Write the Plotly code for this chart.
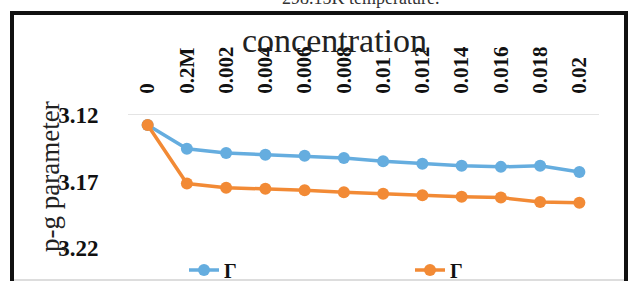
import plotly.graph_objects as go

categories = ["0", "0.2M", "0.002", "0.004", "0.006", "0.008", "0.01", "0.012", "0.014", "0.016", "0.018", "0.02"]
series_blue = [3.1275, 3.1454, 3.1486, 3.1499, 3.1506, 3.1523, 3.1548, 3.1566, 3.1581, 3.1590, 3.1581, 3.1628]
series_orange = [3.1275, 3.1715, 3.1747, 3.1754, 3.1765, 3.1780, 3.1792, 3.1804, 3.1814, 3.1821, 3.1854, 3.1859]
y_ticks = [3.12, 3.17, 3.22]
series_names = ["Γ", "Γ"]

W, H = 634, 281
L, R, T, B = 128, 35, 115, 33
pw, ph = W - L - R, H - T - B

def px_x(x):
    return (x - L) / pw

def px_y(y):
    return (H - B - y) / ph

SERIF = "Liberation Serif, Times New Roman, serif"
BLUE = "#65ADDF"
ORANGE = "#F28A35"

fig = go.Figure()
fig.add_trace(go.Scatter(x=categories, y=series_blue, name=series_names[0], mode="lines+markers",
                         line=dict(color=BLUE, width=3.5), marker=dict(size=12, color=BLUE),
                         legend="legend"))
fig.add_trace(go.Scatter(x=categories, y=series_orange, name=series_names[1], mode="lines+markers",
                         line=dict(color=ORANGE, width=3.5), marker=dict(size=12, color=ORANGE),
                         legend="legend2"))

legend_common = dict(orientation="h", yanchor="middle", xanchor="left",
                     font=dict(family=SERIF, size=20, color="#111", weight="bold"),
                     bgcolor="rgba(0,0,0,0)")

fig.update_layout(
    width=W, height=H,
    margin=dict(l=L, r=R, t=T, b=B, autoexpand=False),
    paper_bgcolor="white", plot_bgcolor="white",
    font=dict(family=SERIF, color="#1a1a1a"),
    showlegend=True,
    legend=dict(x=px_x(184), y=px_y(270), **legend_common),
    legend2=dict(x=px_x(410), y=px_y(270), **legend_common),
    xaxis=dict(type="category", side="top", range=[-0.5, 11.5], showgrid=False, automargin=False,
               showline=True, linecolor="#e4e4e4", linewidth=1,
               ticks="outside", ticklen=16, tickcolor="rgba(0,0,0,0)",
               tickangle=-90, tickfont=dict(family=SERIF, size=21, color="#111", weight="bold")),
    yaxis=dict(range=[3.22, 3.12], tickvals=y_ticks, ticktext=[f"{v:.2f}" for v in y_ticks],
               showgrid=False, zeroline=False, showline=False, automargin=False,
               ticks="outside", ticklen=24, tickcolor="rgba(0,0,0,0)",
               tickfont=dict(family=SERIF, size=23, color="#111", weight="bold")),
)

fig.add_annotation(text="concentration", xref="paper", yref="paper",
                   x=px_x(334), y=px_y(40), xanchor="center", yanchor="middle", showarrow=False,
                   font=dict(family=SERIF, size=34, color="#222"))
fig.add_annotation(text="p-g parameter", textangle=-90, xref="paper", yref="paper",
                   x=px_x(50), y=px_y(177), xanchor="center", yanchor="middle", showarrow=False,
                   font=dict(family=SERIF, size=27, color="#222"))
fig.add_annotation(text="298.15K temperature.", xref="paper", yref="paper",
                   x=px_x(360), y=px_y(-2), xanchor="center", yanchor="middle", showarrow=False,
                   font=dict(family=SERIF, size=18, color="#333"))

fig.add_shape(type="rect", xref="paper", yref="paper",
              x0=px_x(12), x1=px_x(626), y0=px_y(300), y1=px_y(13),
              line=dict(color="#111", width=4), fillcolor="rgba(0,0,0,0)", layer="above")
fig.add_shape(type="line", xref="paper", yref="paper",
              x0=px_x(14), x1=px_x(624), y0=px_y(280), y1=px_y(280),
              line=dict(color="#bbbbbb", width=1), layer="above")

fig.write_html("out.html", config={"displayModeBar": False},
               post_script="document.body.style.margin='0';document.body.style.padding='0';document.body.style.overflow='hidden';")
